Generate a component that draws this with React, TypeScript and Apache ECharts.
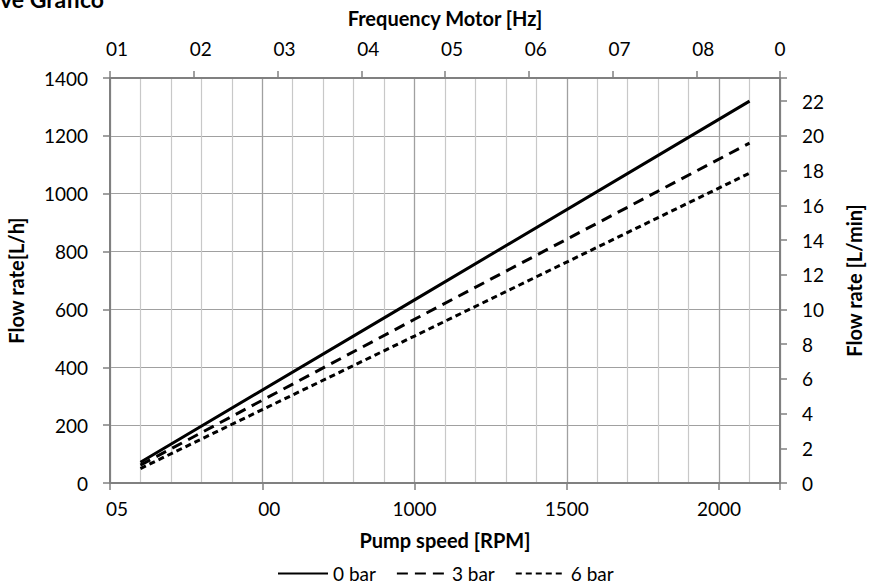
import React, { useEffect, useRef } from "react";
import * as echarts from "echarts";

const rpmTickLabels = ["05", "00", "1000", "1500", "2000"];
const hzTickLabels = ["01", "02", "03", "04", "05", "06", "07", "08", "0"];
const lphTickLabels = ["0", "200", "400", "600", "800", "1000", "1200", "1400"];
const lpmTickLabels = ["0", "2", "4", "6", "8", "10", "12", "14", "16", "18", "20", "22"];

const seriesNames = ["0 bar", "3 bar", "6 bar"];
const pumpSpeed = [100, 1000, 2100];
const flow0bar = [72, 633, 1320];
const flow3bar = [62, 566, 1175];
const flow6bar = [50, 508, 1071];

const FONT = 'Lato, "Noto Sans", sans-serif';

export default function App() {
  const ref = useRef<HTMLDivElement>(null);
  useEffect(() => {
    document.body.style.margin = "0";
    const chart = echarts.init(ref.current!, null, { renderer: "svg" });
    const axisColor = "#808080";
    const lab = (v: string) => (v.length === 2 ? `{p|${v}}` : v);
    const rich = { p: { padding: [0, 0, 0, 14], fontSize: 19, fontFamily: FONT, color: "#000" } };
    const mk = (vals: number[]) => pumpSpeed.map((x, i) => [x, vals[i]]);
    const nameStyle = { fontSize: 20, fontWeight: "bold", fontFamily: FONT, color: "#000" };
    const line = { show: true, onZero: false, lineStyle: { color: axisColor, width: 2 } };
    const tick = { show: true, length: 7, lineStyle: { color: axisColor, width: 1.5 } };
    chart.setOption({
      animation: false,
      backgroundColor: "#fff",
      textStyle: { fontFamily: FONT },
      graphic: [
        {
          type: "text",
          left: 0,
          top: -13,
          style: { text: "ve Grafico", font: `bold 23px ${FONT}`, fill: "#000" },
        },
      ],
      grid: { left: 110, right: 90, top: 78, bottom: 102, containLabel: false, outerBoundsMode: "none" },
      legend: {
        top: 559,
        left: 272,
        itemWidth: 50,
        itemHeight: 14,
        itemGap: 20,
        itemStyle: { opacity: 0 },
        textStyle: { fontSize: 19, fontFamily: FONT, color: "#000" },
        data: seriesNames,
      },
      xAxis: [
        {
          type: "value",
          min: 0,
          max: 2200,
          interval: 100,
          axisLine: { show: false, onZero: false },
          axisTick: { show: false },
          axisLabel: { show: false },
          splitLine: { show: true, lineStyle: { color: "#c8c8c8", width: 1.2 } },
        },
        {
          type: "value",
          position: "bottom",
          min: 0,
          max: 2200,
          interval: 500,
          name: "Pump speed [RPM]",
          nameLocation: "middle",
          nameGap: 47,
          nameTextStyle: nameStyle,
          axisLine: line,
          axisTick: tick,
          axisLabel: {
            fontSize: 19,
            fontFamily: FONT,
            color: "#000",
            margin: 16,
            rich,
            formatter: (v: number) => (v % 500 === 0 && v / 500 < rpmTickLabels.length ? lab(rpmTickLabels[v / 500]) : ""),
          },
          splitLine: { show: true, lineStyle: { color: "#a0a0a0", width: 1.2 } },
        },
        {
          type: "value",
          position: "top",
          min: 0,
          max: 8,
          interval: 1,
          name: "Frequency Motor [Hz]",
          nameLocation: "middle",
          nameGap: 50,
          nameTextStyle: nameStyle,
          axisLine: line,
          axisTick: tick,
          axisLabel: {
            fontSize: 19,
            fontFamily: FONT,
            color: "#000",
            margin: 20,
            rich,
            formatter: (v: number) => lab(hzTickLabels[Math.round(v)] ?? ""),
          },
          splitLine: { show: false },
        },
      ],
      yAxis: [
        {
          type: "value",
          position: "left",
          min: 0,
          max: 1400,
          interval: 200,
          name: "Flow rate[L/h]",
          nameLocation: "middle",
          nameRotate: 90,
          nameGap: 84,
          nameTextStyle: nameStyle,
          axisLine: line,
          axisTick: tick,
          axisLabel: {
            fontSize: 19,
            fontFamily: FONT,
            color: "#000",
            margin: 22,
            formatter: (v: number) => lphTickLabels[v / 200] ?? "",
          },
          splitLine: { show: true, lineStyle: { color: "#a0a0a0", width: 1.2 } },
        },
        {
          type: "value",
          position: "right",
          min: 0,
          max: 1400 / 60,
          interval: 2,
          name: "Flow rate [L/min]",
          nameLocation: "middle",
          nameRotate: 90,
          nameGap: 64,
          nameTextStyle: nameStyle,
          axisLine: line,
          axisTick: tick,
          axisLabel: {
            fontSize: 19,
            fontFamily: FONT,
            color: "#000",
            margin: 22,
            formatter: (v: number) => (Number.isInteger(v) ? lpmTickLabels[v / 2] ?? "" : ""),
          },
          splitLine: { show: false },
        },
      ],
      series: [
        {
          name: seriesNames[0],
          type: "line",
          xAxisIndex: 1,
          yAxisIndex: 0,
          symbol: "none",
          data: mk(flow0bar),
          lineStyle: { color: "#000", width: 3, type: "solid" },
          itemStyle: { color: "#000" },
        },
        {
          name: seriesNames[1],
          type: "line",
          xAxisIndex: 1,
          yAxisIndex: 0,
          symbol: "none",
          data: mk(flow3bar),
          lineStyle: { color: "#000", width: 3, type: [11, 7] },
          itemStyle: { color: "#000" },
        },
        {
          name: seriesNames[2],
          type: "line",
          xAxisIndex: 1,
          yAxisIndex: 0,
          symbol: "none",
          data: mk(flow6bar),
          lineStyle: { color: "#000", width: 3, type: [6, 4] },
          itemStyle: { color: "#000" },
        },
      ],
    });
    return () => chart.dispose();
  }, []);
  return <div ref={ref} style={{ width: 870, height: 585 }} />;
}
